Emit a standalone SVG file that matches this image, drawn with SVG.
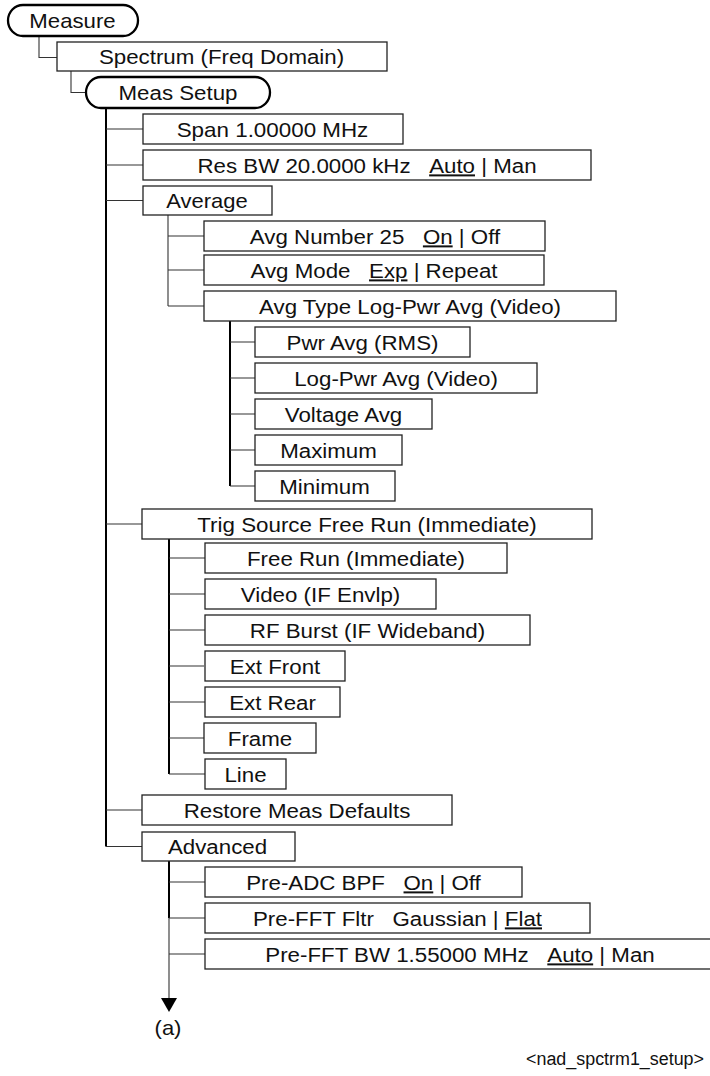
<svg xmlns="http://www.w3.org/2000/svg" width="710" height="1076" viewBox="0 0 710 1076">
<style>
.bg{fill:#fff}
.box{fill:#fff;stroke:#222;stroke-width:1.3}
.pill{fill:#fff;stroke:#000;stroke-width:2.3}
.t{font-family:"Liberation Sans",Arial,sans-serif;font-size:20px;fill:#111;text-anchor:middle}
.u{text-decoration:underline}
.thin{stroke:#333;stroke-width:1.1;fill:none}
.thick{stroke:#000;stroke-width:2;fill:none}
.cap{font-family:"Liberation Sans",Arial,sans-serif;font-size:18px;fill:#111}
</style>
<rect class="bg" x="0" y="0" width="710" height="1076"/>
<g id="connectors">
<path class="thin" d="M39,35V57.5H57"/>
<path class="thin" d="M71,71V92.5H87"/>
<path class="thick" d="M106,107V846.5"/>
<path class="thin" d="M106,129H143M106,165H143M106,200.5H143M106,524H142M106,810H142M106,846.5H142"/>
<path class="thin" d="M168,215V306M168,236H204M168,270H204M168,306H204"/>
<path class="thick" d="M230,321V486"/>
<path class="thin" d="M230,342H255M230,378H255M230,414H255M230,450H255M230,486H255"/>
<path class="thick" d="M169,539V774"/>
<path class="thin" d="M169,558H205M169,594H205M169,630H205M169,666H204M169,702H205M169,738H204M169,774H205"/>
<path class="thick" d="M169,861V918"/>
<path class="thin" d="M169,918V1000M169,882H205M169,918H205M169,954H205"/>
<polygon points="161,998 177,998 169,1012" fill="#000"/>
</g>
<g id="measure"><rect class="pill" x="8" y="5" width="130" height="31" rx="15" ry="15.5"/><text class="t" transform="matrix(1.11 0 0 1 72.5 28.3)">Measure</text></g>
<g id="spectrum"><rect class="box" x="57" y="42" width="330" height="29"/><text class="t" transform="matrix(1.115 0 0 1 221.5 64.3)">Spectrum (Freq Domain)</text></g>
<g id="meassetup"><rect class="pill" x="86" y="77" width="184" height="31" rx="15" ry="15.5"/><text class="t" transform="matrix(1.115 0 0 1 178 100)">Meas Setup</text></g>
<g id="span"><rect class="box" x="143" y="114" width="260" height="30"/><text class="t" transform="matrix(1.12 0 0 1 272.5 136.7)">Span 1.00000 MHz</text></g>
<g id="resbw"><rect class="box" x="143" y="150" width="448" height="30"/><text class="t" xml:space="preserve" transform="matrix(1.115 0 0 1 367 172.5)">Res BW 20.0000 kHz   <tspan class="u">Auto</tspan> | Man</text></g>
<g id="average"><rect class="box" x="143" y="186" width="129" height="29"/><text class="t" transform="matrix(1.1 0 0 1 207 208)">Average</text></g>
<g id="avgnumber"><rect class="box" x="204" y="221" width="341" height="30"/><text class="t" xml:space="preserve" transform="matrix(1.115 0 0 1 375 243.5)">Avg Number 25   <tspan class="u">On</tspan> | Off</text></g>
<g id="avgmode"><rect class="box" x="204" y="255" width="340" height="30"/><text class="t" xml:space="preserve" transform="matrix(1.115 0 0 1 374 277.5)">Avg Mode   <tspan class="u">Exp</tspan> | Repeat</text></g>
<g id="avgtype"><rect class="box" x="204" y="291" width="412" height="30"/><text class="t" transform="matrix(1.115 0 0 1 410 313.5)">Avg Type Log-Pwr Avg (Video)</text></g>
<g id="pwravg"><rect class="box" x="255" y="327" width="215" height="30"/><text class="t" transform="matrix(1.115 0 0 1 362.5 349.5)">Pwr Avg (RMS)</text></g>
<g id="logpwr"><rect class="box" x="255" y="363" width="282" height="30"/><text class="t" transform="matrix(1.115 0 0 1 396 385.5)">Log-Pwr Avg (Video)</text></g>
<g id="voltage"><rect class="box" x="255" y="399" width="177" height="30"/><text class="t" transform="matrix(1.115 0 0 1 343.5 421.5)">Voltage Avg</text></g>
<g id="maximum"><rect class="box" x="255" y="435" width="147" height="30"/><text class="t" transform="matrix(1.115 0 0 1 328.5 457.5)">Maximum</text></g>
<g id="minimum"><rect class="box" x="255" y="471" width="140" height="30"/><text class="t" transform="matrix(1.115 0 0 1 324.5 493.5)">Minimum</text></g>
<g id="trigsource"><rect class="box" x="142" y="509" width="450" height="30"/><text class="t" transform="matrix(1.118 0 0 1 367 531.5)">Trig Source Free Run (Immediate)</text></g>
<g id="freerun"><rect class="box" x="205" y="543" width="302" height="30"/><text class="t" transform="matrix(1.115 0 0 1 356 565.5)">Free Run (Immediate)</text></g>
<g id="video"><rect class="box" x="205" y="579" width="231" height="30"/><text class="t" transform="matrix(1.115 0 0 1 320.5 601.5)">Video (IF Envlp)</text></g>
<g id="rfburst"><rect class="box" x="205" y="615" width="325" height="30"/><text class="t" transform="matrix(1.115 0 0 1 367.5 637.5)">RF Burst (IF Wideband)</text></g>
<g id="extfront"><rect class="box" x="205" y="651" width="140" height="30"/><text class="t" transform="matrix(1.115 0 0 1 275 673.5)">Ext Front</text></g>
<g id="extrear"><rect class="box" x="205" y="687" width="135" height="30"/><text class="t" transform="matrix(1.115 0 0 1 272.5 709.5)">Ext Rear</text></g>
<g id="frame"><rect class="box" x="204" y="723" width="112" height="30"/><text class="t" transform="matrix(1.115 0 0 1 260 745.5)">Frame</text></g>
<g id="line"><rect class="box" x="205" y="759" width="81" height="30"/><text class="t" transform="matrix(1.115 0 0 1 245.5 781.5)">Line</text></g>
<g id="restore"><rect class="box" x="142" y="795" width="310" height="30"/><text class="t" transform="matrix(1.115 0 0 1 297 817.5)">Restore Meas Defaults</text></g>
<g id="advanced"><rect class="box" x="142" y="832" width="153" height="29"/><text class="t" transform="matrix(1.115 0 0 1 217.5 853.5)">Advanced</text></g>
<g id="preadc"><rect class="box" x="205" y="867" width="317" height="30"/><text class="t" xml:space="preserve" transform="matrix(1.115 0 0 1 363.5 889.5)">Pre-ADC BPF   <tspan class="u">On</tspan> | Off</text></g>
<g id="prefftfltr"><rect class="box" x="205" y="903" width="385" height="30"/><text class="t" xml:space="preserve" transform="matrix(1.115 0 0 1 397.5 925.5)">Pre-FFT Fltr   Gaussian | <tspan class="u">Flat</tspan></text></g>
<g id="prefftbw"><rect class="box" x="205" y="939" width="512" height="30"/><text class="t" xml:space="preserve" transform="matrix(1.115 0 0 1 460 961.5)">Pre-FFT BW 1.55000 MHz   <tspan class="u">Auto</tspan> | Man</text></g>
<g id="label-a"><text class="t" transform="matrix(1.1 0 0 1 168 1035)">(a)</text></g>
<g id="caption"><text class="cap" x="526" y="1065" textLength="178" lengthAdjust="spacingAndGlyphs">&lt;nad_spctrm1_setup&gt;</text></g>
</svg>
